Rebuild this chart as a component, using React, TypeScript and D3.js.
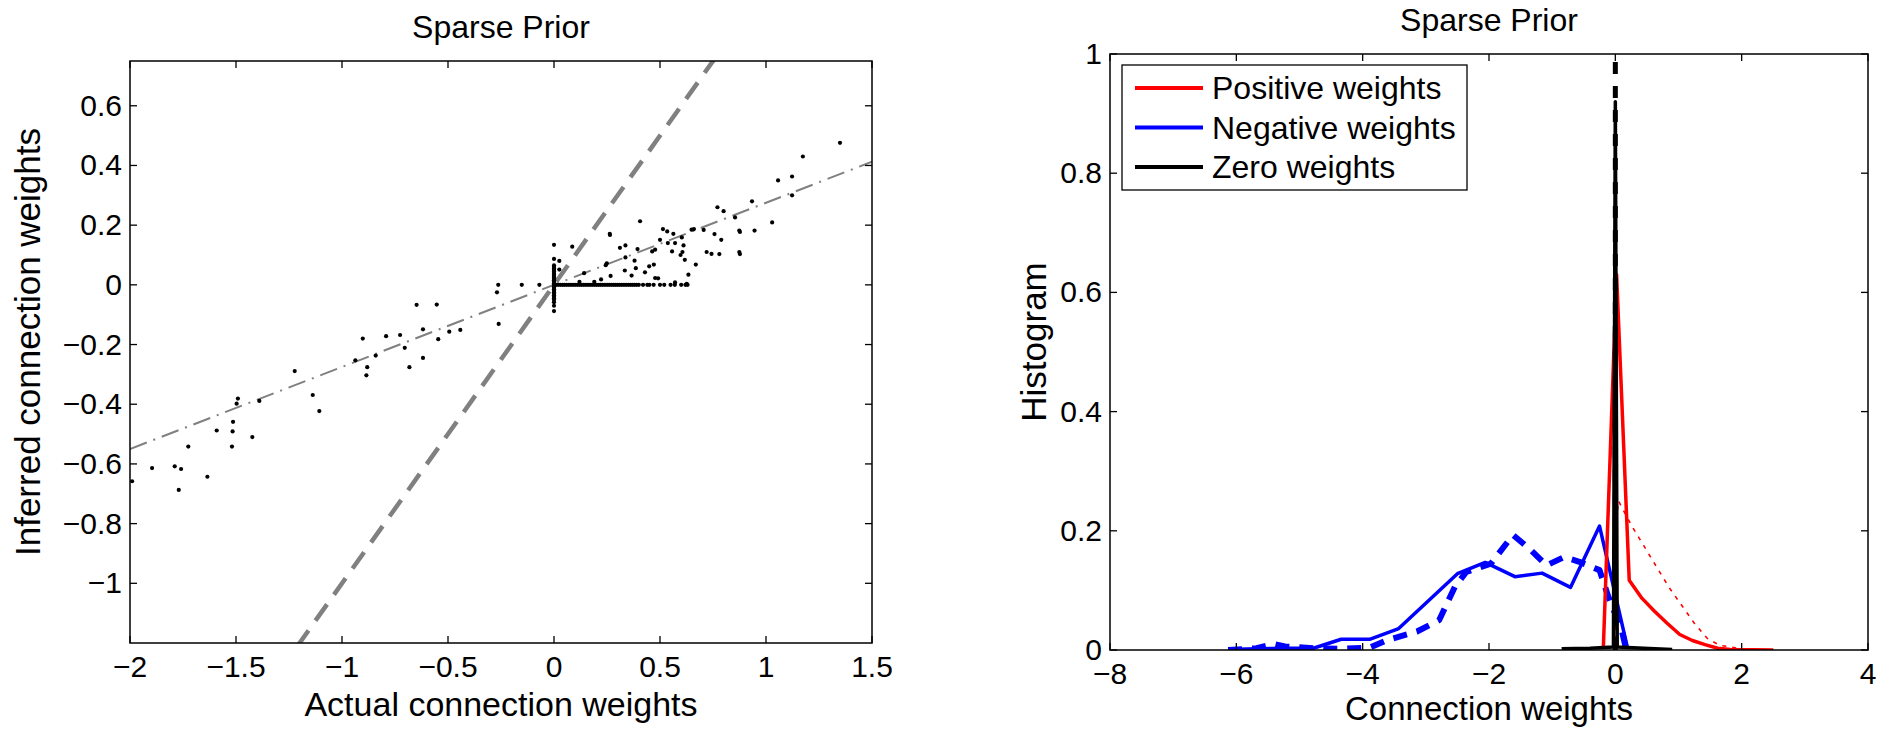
import React from "react";
import * as d3 from "d3";

// ---------- Left panel data (actual vs inferred weights) ----------
const negActual = [-1.99,-1.896,-1.789,-1.759,-1.77,-1.725,-1.635,-1.591,-1.519,-1.516,-1.514,-1.497,-1.491,-1.423,-1.39,-1.223,-1.138,-1.107,-0.937,-0.902,-0.881,-0.885,-0.841,-0.792,-0.726,-0.704,-0.682,-0.648,-0.618,-0.618,-0.553,-0.546,-0.494,-0.442,-0.269,-0.263,-0.261,-0.152,-0.069];
const negInferred = [-0.658,-0.614,-0.608,-0.617,-0.687,-0.542,-0.643,-0.488,-0.542,-0.491,-0.459,-0.398,-0.381,-0.51,-0.389,-0.289,-0.369,-0.423,-0.253,-0.18,-0.276,-0.303,-0.237,-0.172,-0.168,-0.211,-0.276,-0.067,-0.149,-0.245,-0.066,-0.182,-0.157,-0.151,-0.025,0,-0.131,0,0];

const posActual = [0.025,0.025,0.086,0.142,0.12,0.19,0.222,0.244,0.264,0.267,0.263,0.249,0.311,0.337,0.337,0.334,0.366,0.386,0.406,0.38,0.429,0.449,0.471,0.463,0.477,0.5,0.514,0.534,0.537,0.491,0.563,0.571,0.571,0.557,0.603,0.606,0.597,0.611,0.617,0.626,0.634,0.649,0.66,0.669,0.706,0.72,0.743,0.757,0.771,0.78,0.789,0.8,0.854,0.874,0.877,0.874,0.877,0.934,0.946,1.029,1.057,1.123,1.123,1.174,1.349,0.394,0.477];
const posInferred = [0.08,0.051,0.128,0.039,0.01,0.01,0.018,0.066,0.167,0.03,0.171,0.072,0.124,0.132,0.092,0.048,0.031,0.056,0.213,0.081,0.042,0.062,0.068,0.112,0.023,0.151,0.187,0.179,0.14,0.022,0.171,0.14,0.008,0.112,0.159,0.11,0.1,0.132,0.084,0.003,0.034,0.185,0.187,0.068,0.184,0.11,0.104,0.17,0.26,0.103,0.151,0.247,0.226,0.182,0.177,0.11,0.103,0.28,0.182,0.209,0.35,0.363,0.3,0.43,0.476,0.12,0.118];

// positive actual weights inferred as exactly zero
const posZeroActual = [0.01,0.02,0.03,0.04,0.05,0.06,0.07,0.08,0.09,0.1,0.11,0.12,0.13,0.14,0.15,0.16,0.17,0.18,0.19,0.2,0.21,0.22,0.23,0.24,0.25,0.26,0.27,0.28,0.29,0.3,0.31,0.32,0.33,0.34,0.35,0.36,0.37,0.38,0.39,0.4,0.42,0.44,0.45,0.47,0.5,0.52,0.55,0.57,0.6,0.62,0.63];
// zero actual weights: inferred values
const zeroInferred = [0.134,0.087,0.065,0.06,0.055,0.05,0.045,0.04,0.035,0.03,0.025,0.02,0.015,0.01,0.005,0,-0.005,-0.01,-0.015,-0.02,-0.025,-0.03,-0.035,-0.04,-0.045,-0.05,-0.058,-0.07,-0.088];

const leftXTicks = [-2,-1.5,-1,-0.5,0,0.5,1,1.5];
const leftYTicks = [-1,-0.8,-0.6,-0.4,-0.2,0,0.2,0.4,0.6];
const fitSlope = 0.275;

// ---------- Right panel data (histograms) ----------
const negBinX = [-6.13,-5.68,-5.23,-4.78,-4.34,-3.89,-3.43,-2.5,-2.06,-1.59,-1.16,-0.71,-0.25,0.196];
const negHist = [0.001,0.002,0.003,0.003,0.018,0.018,0.036,0.128,0.147,0.123,0.129,0.105,0.208,0.002];
const negPriorX = [-6.13,-5.68,-5.4,-5.23,-4.78,-4.34,-3.89,-3.6,-3.14,-2.79,-2.54,-2.36,-1.97,-1.62,-1.34,-1.09,-0.81,-0.57,-0.25,-0.11,0.1,0.17];
const negPrior = [0.0,0.003,0.01,0.006,0.003,0.002,0.004,0.017,0.031,0.05,0.106,0.131,0.145,0.193,0.168,0.142,0.156,0.148,0.134,0.089,0.034,0.002];

const posBinX = [-0.19,0.02,0.22,0.42,0.62,0.82,1.02,1.22,1.42,1.62,1.82,2.5];
const posHist = [0.003,0.63,0.117,0.087,0.065,0.045,0.026,0.016,0.009,0.003,0.001,0.0];
const posPriorX = [0.0,0.0,0.05,0.25,0.45,0.65,0.85,1.05,1.25,1.45,1.65,2.0,2.5];
const posPrior = [0.0,0.2,0.25,0.21,0.175,0.14,0.105,0.075,0.045,0.02,0.008,0.002,0.0];

const zeroBinX = [-0.85,-0.4,-0.03,0,0.03,0.45,0.9];
const zeroHist = [0.002,0.003,0.005,0.92,0.005,0.003,0.001];
const zeroPriorX = [0,0];
const zeroPrior = [0,1.0];

const rightXTicks = [-8,-6,-4,-2,0,2,4];
const rightYTicks = [0,0.2,0.4,0.6,0.8,1];

const legendLabels = ["Positive weights","Negative weights","Zero weights"];
const legendColors = ["#ff0000","#0000ff","#000000"];

const FONT = "'Liberation Sans', Arial, Helvetica, sans-serif";
const fmt = (v: number) => (v < 0 ? "\u2212" + String(Math.abs(v)) : String(v));

type Box = { l: number; r: number; t: number; b: number };

function Frame({ box, x, y, xt, yt }: { box: Box; x: any; y: any; xt: number[]; yt: number[] }) {
  const tl = 7;
  return (
    <g>
      <rect x={box.l} y={box.t} width={box.r - box.l} height={box.b - box.t} fill="none" stroke="#000" strokeWidth={1.5} />
      {xt.map((v) => (
        <g key={"x" + v}>
          <line x1={x(v)} x2={x(v)} y1={box.b} y2={box.b - tl} stroke="#000" strokeWidth={1.3} />
          <line x1={x(v)} x2={x(v)} y1={box.t} y2={box.t + tl} stroke="#000" strokeWidth={1.3} />
          <text x={x(v)} y={box.b + 34} textAnchor="middle" fontSize={30} fontFamily={FONT}>{fmt(v)}</text>
        </g>
      ))}
      {yt.map((v) => (
        <g key={"y" + v}>
          <line x1={box.l} x2={box.l + tl} y1={y(v)} y2={y(v)} stroke="#000" strokeWidth={1.3} />
          <line x1={box.r} x2={box.r - tl} y1={y(v)} y2={y(v)} stroke="#000" strokeWidth={1.3} />
          <text x={box.l - 8} y={y(v) + 10} textAnchor="end" fontSize={30} fontFamily={FONT}>{fmt(v)}</text>
        </g>
      ))}
    </g>
  );
}

export default function App() {
  const L: Box = { l: 130, r: 872, t: 61, b: 643 };
  const R: Box = { l: 1110, r: 1868, t: 54, b: 650 };

  const lx = d3.scaleLinear().domain([-2, 1.5]).range([L.l, L.r]);
  const ly = d3.scaleLinear().domain([-1.2, 0.75]).range([L.b, L.t]);
  const rx = d3.scaleLinear().domain([-8, 4]).range([R.l, R.r]);
  const ry = d3.scaleLinear().domain([0, 1]).range([R.b, R.t]);

  const rline = d3.line<[number, number]>().x((d) => rx(d[0])).y((d) => ry(d[1]));
  const zip = (a: number[], b: number[]) => a.map((v, i) => [v, b[i]] as [number, number]);

  const dots: [number, number][] = [
    ...zip(negActual, negInferred),
    ...zip(posActual, posInferred),
    ...posZeroActual.map((v) => [v, 0] as [number, number]),
    ...zeroInferred.map((v) => [0, v] as [number, number]),
  ];

  const xs = [-2, 1.5];

  return (
    <svg width={1889} height={729} style={{ position: "absolute", left: 0, top: 0, background: "#fff" }}>
      <defs>
        <clipPath id="clipL"><rect x={L.l} y={L.t} width={L.r - L.l} height={L.b - L.t} /></clipPath>
        <clipPath id="clipR"><rect x={R.l} y={R.t} width={R.r - R.l} height={R.b - R.t} /></clipPath>
      </defs>
      <rect width={1889} height={729} fill="#fff" />

      {/* ----- Left panel ----- */}
      <g clipPath="url(#clipL)">
        <line x1={lx(-1.3)} y1={ly(-1.3)} x2={lx(0.8)} y2={ly(0.8)} stroke="#808080" strokeWidth={4.5} strokeDasharray="20,12" />
        <line x1={lx(xs[0])} y1={ly(fitSlope * xs[0])} x2={lx(xs[1])} y2={ly(fitSlope * xs[1])} stroke="#808080" strokeWidth={2} strokeDasharray="18,7,2,7" />
        {dots.map((d, i) => (
          <circle key={i} cx={lx(d[0])} cy={ly(d[1])} r={2.1} fill="#000" />
        ))}
      </g>
      <Frame box={L} x={lx} y={ly} xt={leftXTicks} yt={leftYTicks} />
      <text x={(L.l + L.r) / 2} y={38} textAnchor="middle" fontSize={32} fontFamily={FONT}>Sparse Prior</text>
      <text x={(L.l + L.r) / 2} y={716} textAnchor="middle" fontSize={34} fontFamily={FONT}>Actual connection weights</text>
      <text transform={`translate(40,${(L.t + L.b) / 2 - 10}) rotate(-90)`} textAnchor="middle" fontSize={35} fontFamily={FONT}>Inferred connection weights</text>

      {/* ----- Right panel ----- */}
      <g clipPath="url(#clipR)" fill="none" strokeLinejoin="round">
        <path d={rline(zip(negBinX, negHist)) || ""} stroke="#0000ff" strokeWidth={3.5} />
        <path d={rline(zip(negPriorX, negPrior)) || ""} stroke="#0000ff" strokeWidth={6} strokeDasharray="14,10" />
        <path d={rline(zip(posBinX, posHist)) || ""} stroke="#ff0000" strokeWidth={3.5} />
        <path d={rline(zip(posPriorX, posPrior)) || ""} stroke="#ff0000" strokeWidth={1.6} strokeDasharray="4,6" />
        <path d={rline(zip(zeroBinX, zeroHist)) || ""} stroke="#000000" strokeWidth={3.5} />
        <path d={rline(zip(zeroPriorX, zeroPrior)) || ""} stroke="#000000" strokeWidth={5} strokeDasharray="12,12" />
      </g>
      <Frame box={R} x={rx} y={ry} xt={rightXTicks} yt={rightYTicks} />
      <text x={(R.l + R.r) / 2} y={31} textAnchor="middle" fontSize={32} fontFamily={FONT}>Sparse Prior</text>
      <text x={(R.l + R.r) / 2} y={720} textAnchor="middle" fontSize={33} fontFamily={FONT}>Connection weights</text>
      <text transform={`translate(1046,${(R.t + R.b) / 2 - 10}) rotate(-90)`} textAnchor="middle" fontSize={35} fontFamily={FONT}>Histogram</text>

      {/* legend */}
      <g>
        <rect x={1122} y={65} width={345} height={125} fill="#fff" stroke="#000" strokeWidth={1.3} />
        {legendLabels.map((lab, i) => (
          <g key={lab}>
            <line x1={1135} x2={1203} y1={88 + i * 39.5} y2={88 + i * 39.5} stroke={legendColors[i]} strokeWidth={4} />
            <text x={1212} y={88 + i * 39.5 + 11} fontSize={32} fontFamily={FONT}>{lab}</text>
          </g>
        ))}
      </g>
    </svg>
  );
}
